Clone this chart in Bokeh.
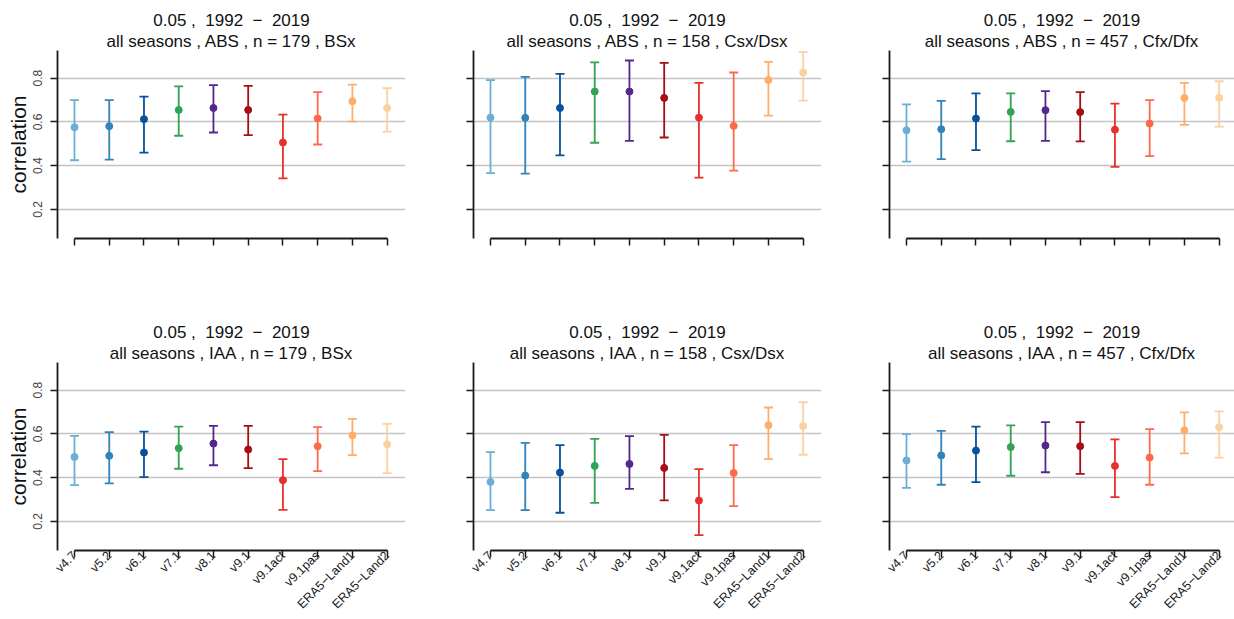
from bokeh.plotting import figure
from bokeh.models import ColumnDataSource, Range1d, FixedTicker, Title
from bokeh.layouts import column, row
from bokeh.embed import file_html
from bokeh.resources import INLINE

# Products compared against the in-situ soil moisture stations
products = ["v4.7", "v5.2", "v6.1", "v7.1", "v8.1", "v9.1", "v9.1act", "v9.1pas",
            "ERA5\u2212Land1", "ERA5\u2212Land2"]
colors = ["#6baed6", "#3182bd", "#08519c", "#31a354", "#54278f",
          "#a50f15", "#e8302a", "#fb6a4a", "#fdae6b", "#fdd0a2"]

# Median correlation and its confidence bounds, absolute values (ABS)
abs_bsx_r = [0.576, 0.581, 0.613, 0.655, 0.664, 0.655, 0.506, 0.616, 0.695, 0.664]
abs_bsx_lo = [0.425, 0.428, 0.460, 0.537, 0.552, 0.540, 0.342, 0.497, 0.602, 0.556]
abs_bsx_hi = [0.700, 0.700, 0.716, 0.763, 0.768, 0.765, 0.634, 0.736, 0.771, 0.754]

abs_csx_r = [0.620, 0.619, 0.664, 0.739, 0.739, 0.710, 0.620, 0.582, 0.792, 0.826]
abs_csx_lo = [0.366, 0.364, 0.447, 0.505, 0.514, 0.529, 0.346, 0.378, 0.629, 0.698]
abs_csx_hi = [0.791, 0.806, 0.820, 0.872, 0.881, 0.870, 0.779, 0.826, 0.875, 0.919]

abs_cfx_r = [0.562, 0.567, 0.616, 0.646, 0.654, 0.645, 0.565, 0.593, 0.710, 0.710]
abs_cfx_lo = [0.419, 0.430, 0.471, 0.512, 0.514, 0.511, 0.395, 0.444, 0.587, 0.579]
abs_cfx_hi = [0.680, 0.696, 0.731, 0.731, 0.741, 0.736, 0.684, 0.700, 0.779, 0.786]

# Interannual anomalies (IAA)
iaa_bsx_r = [0.495, 0.500, 0.515, 0.535, 0.556, 0.529, 0.389, 0.544, 0.594, 0.553]
iaa_bsx_lo = [0.366, 0.374, 0.403, 0.441, 0.457, 0.444, 0.253, 0.430, 0.503, 0.421]
iaa_bsx_hi = [0.591, 0.608, 0.611, 0.634, 0.637, 0.637, 0.485, 0.631, 0.669, 0.646]

iaa_csx_r = [0.381, 0.410, 0.424, 0.454, 0.463, 0.445, 0.296, 0.422, 0.640, 0.636]
iaa_csx_lo = [0.252, 0.252, 0.240, 0.285, 0.349, 0.297, 0.138, 0.270, 0.485, 0.505]
iaa_csx_hi = [0.517, 0.559, 0.549, 0.578, 0.590, 0.596, 0.439, 0.549, 0.721, 0.745]

iaa_cfx_r = [0.479, 0.502, 0.524, 0.540, 0.547, 0.544, 0.454, 0.492, 0.617, 0.631]
iaa_cfx_lo = [0.354, 0.368, 0.380, 0.409, 0.425, 0.418, 0.311, 0.368, 0.511, 0.492]
iaa_cfx_hi = [0.599, 0.614, 0.634, 0.639, 0.654, 0.654, 0.575, 0.622, 0.699, 0.703]

y_ticks = [0.2, 0.4, 0.6, 0.8]
NB = "\u00a0"
title_top = f"0.05{NB},{NB}{NB}1992{NB}{NB}\u2212{NB}{NB}2019"

panels = [
    ("all seasons , ABS , n = 179 , BSx", abs_bsx_r, abs_bsx_lo, abs_bsx_hi),
    ("all seasons , ABS , n = 158 , Csx/Dsx", abs_csx_r, abs_csx_lo, abs_csx_hi),
    ("all seasons , ABS , n = 457 , Cfx/Dfx", abs_cfx_r, abs_cfx_lo, abs_cfx_hi),
    ("all seasons , IAA , n = 179 , BSx", iaa_bsx_r, iaa_bsx_lo, iaa_bsx_hi),
    ("all seasons , IAA , n = 158 , Csx/Dsx", iaa_csx_r, iaa_csx_lo, iaa_csx_hi),
    ("all seasons , IAA , n = 457 , Cfx/Dfx", iaa_cfx_r, iaa_cfx_lo, iaa_cfx_hi),
]

FONT = "Liberation Sans"
FRAME_H = 188
LEFT = 57
STEP = 34.74          # pixels between neighbouring products
X0 = 1 - 17 / STEP    # left edge of the data area
Y0, Y1 = 0.0675, 0.9266


def make_panel(idx, subtitle, r, lo, hi):
    top_row = idx < 3
    col = idx % 3
    width = 402 if col == 2 else 416
    right = 0 if col == 2 else 11
    height = 312 if top_row else 307
    bottom = height - 50 - FRAME_H
    frame_w = width - LEFT - right

    p = figure(width=width, height=height, output_backend="svg", toolbar_location=None,
               x_range=Range1d(X0, X0 + frame_w / STEP), y_range=Range1d(Y0, Y1),
               min_border_left=LEFT, min_border_right=right,
               min_border_top=50, min_border_bottom=bottom,
               tools="")
    p.outline_line_color = None
    p.background_fill_color = "white"
    p.border_fill_color = "white"

    # two-line heading, the first title added sits nearest to the frame
    p.add_layout(Title(text=subtitle, align="center", text_font=FONT,
                       text_font_size="17px", text_font_style="normal",
                       text_color="#111111", standoff=0), "above")
    p.add_layout(Title(text=title_top, align="center", text_font=FONT,
                       text_font_size="17px", text_font_style="normal",
                       text_color="#111111", standoff=0), "above")

    p.xgrid.grid_line_color = None
    p.ygrid.ticker = FixedTicker(ticks=y_ticks)
    p.ygrid.grid_line_color = "#c4c4c4"
    p.ygrid.grid_line_width = 1.5

    xs = list(range(1, len(products) + 1))
    xa = p.xaxis[0]
    xa.ticker = FixedTicker(ticks=xs)
    xa.bounds = (1, len(products))
    xa.axis_line_width = 1.8
    xa.axis_line_color = "#1a1a1a"
    xa.major_tick_line_width = 1.5
    xa.major_tick_line_color = "#1a1a1a"
    xa.major_tick_out = 7
    xa.major_tick_in = 0
    xa.minor_tick_line_color = None
    if top_row:
        xa.major_label_overrides = {x: "" for x in xs}
    else:
        xa.major_label_overrides = {x: name for x, name in zip(xs, products)}
        xa.major_label_orientation = 0.785398
        xa.major_label_standoff = -4
        xa.major_label_text_font = FONT
        xa.major_label_text_font_size = "12.5px"
        xa.major_label_text_color = "#1a1a1a"

    ya = p.yaxis[0]
    ya.ticker = FixedTicker(ticks=y_ticks)
    ya.axis_line_width = 1.8
    ya.axis_line_color = "#1a1a1a"
    ya.major_tick_line_width = 1.5
    ya.major_tick_line_color = "#1a1a1a"
    ya.major_tick_out = 7
    ya.major_tick_in = 0
    ya.minor_tick_line_color = None
    if col == 0:
        ya.major_label_overrides = {t: f"{t:.1f}" for t in y_ticks}
        ya.major_label_orientation = "vertical"
        ya.major_label_text_font = FONT
        ya.major_label_text_font_size = "12px"
        ya.major_label_text_color = "#444444"
        ya.major_label_standoff = 8
        ya.axis_label = "correlation"
        ya.axis_label_text_font = FONT
        ya.axis_label_text_font_size = "21px"
        ya.axis_label_text_font_style = "normal"
        ya.axis_label_text_color = "#111111"
        ya.axis_label_standoff = 1
    else:
        ya.major_label_overrides = {t: "" for t in y_ticks}

    src = ColumnDataSource(dict(x=xs, r=r, lo=lo, hi=hi, color=colors))
    p.segment(x0="x", y0="lo", x1="x", y1="hi", source=src,
              line_color="color", line_width=1.8)
    p.scatter(x="x", y="hi", source=src, marker="dash", size=9,
              line_color="color", line_width=1.8)
    p.scatter(x="x", y="lo", source=src, marker="dash", size=9,
              line_color="color", line_width=1.8)
    p.scatter(x="x", y="r", source=src, marker="circle", size=7,
              fill_color="color", line_color="color")
    return p


figs = [make_panel(i, *panel) for i, panel in enumerate(panels)]
layout = column(row(*figs[:3], spacing=0), row(*figs[3:], spacing=0), spacing=0)

open("out.html", "w").write(file_html(layout, INLINE))
